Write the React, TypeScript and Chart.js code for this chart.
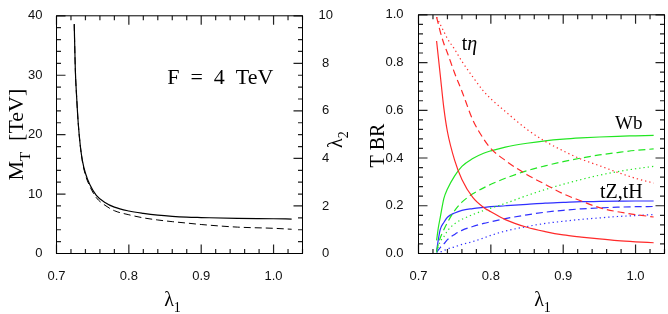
import React, { useEffect, useRef } from 'react';
import { Chart, registerables } from 'chart.js';

Chart.register(...registerables);

// ---------- data ----------
const X_TICKS = [0.7, 0.8, 0.9, 1.0];
const MT_TICKS = [0, 10, 20, 30, 40];
const L2_TICKS = [0, 2, 4, 6, 8, 10];
const BR_TICKS = [0.0, 0.2, 0.4, 0.6, 0.8, 1.0];

// left panel
const LAMBDA_LEFT = [0.7245, 0.726, 0.728, 0.730, 0.733, 0.736, 0.740, 0.746, 0.755, 0.767, 0.78, 0.80, 0.82, 0.84, 0.86, 0.88, 0.90, 0.95, 1.00, 1.025];
const MT_SOLID = [38.6, 31, 26, 22, 18, 15.5, 13.5, 11.6, 9.8, 8.6, 7.8, 7.15, 6.75, 6.45, 6.25, 6.12, 6.05, 5.9, 5.85, 5.8];
const LAMBDA2_DASHED = [9.65, 7.75, 6.5, 5.5, 4.5, 3.83, 3.3, 2.83, 2.35, 2.03, 1.8, 1.63, 1.5, 1.41, 1.34, 1.28, 1.22, 1.11, 1.06, 1.02];

// right panel
const LAMBDA_RIGHT = [0.725, 0.7275, 0.73, 0.735, 0.74, 0.75, 0.76, 0.775, 0.79, 0.80, 0.82, 0.85, 0.875, 0.90, 0.925, 0.95, 0.975, 1.00, 1.025];
const TETA_SOLID = [0.89, 0.82, 0.75, 0.61, 0.51, 0.39, 0.31, 0.235, 0.193, 0.175, 0.142, 0.11, 0.092, 0.078, 0.069, 0.061, 0.054, 0.049, 0.045];
const TETA_DASHED = [0.99, 0.96, 0.93, 0.88, 0.84, 0.755, 0.68, 0.56, 0.48, 0.44, 0.39, 0.33, 0.29, 0.25, 0.22, 0.192, 0.175, 0.163, 0.153];
const TETA_DOTTED = [0.99, 0.975, 0.96, 0.93, 0.9, 0.855, 0.805, 0.74, 0.68, 0.648, 0.595, 0.52, 0.47, 0.43, 0.395, 0.368, 0.34, 0.315, 0.295];
const WB_SOLID = [0.055, 0.11, 0.15, 0.23, 0.27, 0.325, 0.365, 0.398, 0.42, 0.43, 0.446, 0.462, 0.472, 0.479, 0.484, 0.488, 0.491, 0.493, 0.495];
const WB_DASHED = [0.01, 0.04, 0.065, 0.1, 0.13, 0.18, 0.215, 0.25, 0.275, 0.29, 0.315, 0.347, 0.367, 0.385, 0.4, 0.413, 0.423, 0.432, 0.438];
const WB_DOTTED = [0.005, 0.03, 0.05, 0.07, 0.095, 0.125, 0.143, 0.163, 0.18, 0.19, 0.21, 0.243, 0.268, 0.29, 0.31, 0.328, 0.343, 0.355, 0.365];
const TZ_SOLID = [0.01, 0.06, 0.1, 0.13, 0.152, 0.17, 0.181, 0.188, 0.193, 0.196, 0.2, 0.206, 0.211, 0.214, 0.217, 0.218, 0.219, 0.22, 0.22];
const TZ_DASHED = [0.005, 0.015, 0.025, 0.04, 0.058, 0.08, 0.097, 0.113, 0.126, 0.133, 0.146, 0.162, 0.173, 0.181, 0.187, 0.191, 0.194, 0.196, 0.197];
const TZ_DOTTED = [0.0, 0.003, 0.006, 0.012, 0.019, 0.028, 0.038, 0.05, 0.065, 0.076, 0.094, 0.113, 0.126, 0.135, 0.143, 0.149, 0.155, 0.159, 0.163];

// ---------- styles ----------
const SERIF = '"Liberation Serif", "Times New Roman", serif';
const SANS = '"Liberation Sans", Arial, sans-serif';
const RED = '#ff2a2a';
const GREEN = '#22e622';
const BLUE = '#2f2fff';
const DASH = [7, 4];
const DOT = [1.3, 3];

type Part = { t: string; sub?: boolean; italic?: boolean };
type TextItem = {
  parts: Part[];
  size: number;
  rotate?: boolean;
  align?: 'left' | 'center';
  pos: (c: any) => { x: number; y: number };
};

function textPlugin(items: TextItem[]) {
  return {
    id: 'texts',
    afterDraw(chart: any) {
      const ctx = chart.ctx;
      for (const it of items) {
        const { x, y } = it.pos(chart);
        const fontFor = (p: Part) =>
          `${p.italic ? 'italic ' : ''}${p.sub ? Math.round(it.size * 0.7) : it.size}px ${SERIF}`;
        ctx.save();
        ctx.translate(x, y);
        if (it.rotate) ctx.rotate(-Math.PI / 2);
        let total = 0;
        const widths = it.parts.map((p) => {
          ctx.font = fontFor(p);
          const w = ctx.measureText(p.t).width;
          total += w;
          return w;
        });
        let cx = it.align === 'left' ? 0 : -total / 2;
        ctx.fillStyle = '#000';
        ctx.textAlign = 'left';
        ctx.textBaseline = 'alphabetic';
        it.parts.forEach((p, i) => {
          ctx.font = fontFor(p);
          ctx.fillText(p.t, cx, p.sub ? it.size * 0.3 : 0);
          cx += widths[i];
        });
        ctx.restore();
      }
    },
  };
}

type TickSpec = {
  scaleId: string;
  sides: ('bottom' | 'top' | 'left' | 'right')[];
  from: number;
  to: number;
  step: number;
  majors: number[];
};

function framePlugin(specs: TickSpec[]) {
  return {
    id: 'frame',
    afterDraw(chart: any) {
      const { ctx, chartArea: a } = chart;
      ctx.save();
      ctx.strokeStyle = '#222';
      ctx.lineWidth = 1.2;
      ctx.setLineDash([]);
      ctx.beginPath();
      for (const s of specs) {
        const sc = chart.scales[s.scaleId];
        const n = Math.round((s.to - s.from) / s.step);
        for (let i = 0; i <= n; i++) {
          const v = s.from + i * s.step;
          const major = s.majors.some((m) => Math.abs(m - v) < s.step * 0.01);
          const len = major ? 9 : 4.5;
          const p = sc.getPixelForValue(v);
          for (const side of s.sides) {
            if (side === 'bottom') { ctx.moveTo(p, a.bottom); ctx.lineTo(p, a.bottom - len); }
            if (side === 'top') { ctx.moveTo(p, a.top); ctx.lineTo(p, a.top + len); }
            if (side === 'left') { ctx.moveTo(a.left, p); ctx.lineTo(a.left + len, p); }
            if (side === 'right') { ctx.moveTo(a.right, p); ctx.lineTo(a.right - len, p); }
          }
        }
      }
      ctx.stroke();
      ctx.strokeStyle = '#000';
      ctx.lineWidth = 1;
      ctx.strokeRect(a.left, a.top, a.right - a.left, a.bottom - a.top);
      ctx.restore();
    },
  };
}

const tickFont = { family: SANS, size: 13 };

function lineDs(xs: number[], ys: number[], color: string, dash: number[], width: number, axis = 'y') {
  return {
    data: xs.map((x, i) => ({ x, y: ys[i] })),
    borderColor: color,
    borderWidth: width,
    borderDash: dash,
    pointRadius: 0,
    fill: false,
    cubicInterpolationMode: 'monotone' as const,
    yAxisID: axis,
  };
}

function xScale() {
  return {
    type: 'linear' as const,
    min: 0.7,
    max: 1.04,
    afterBuildTicks: (s: any) => { s.ticks = X_TICKS.map((v) => ({ value: v })); },
    afterFit: (s: any) => { s.height = 60.5; },
    grid: { display: false },
    border: { display: false },
    ticks: {
      padding: 7,
      maxRotation: 0,
      autoSkip: false,
      color: '#111',
      font: tickFont,
      callback: (v: any) => Number(v).toFixed(1),
    },
  };
}

const LEFT_W = 360;
const RIGHT_LEFT = 350;
const RIGHT_W = 668 - RIGHT_LEFT;

export default function App() {
  const leftRef = useRef<HTMLCanvasElement>(null);
  const rightRef = useRef<HTMLCanvasElement>(null);

  useEffect(() => {
    const left = new Chart(leftRef.current as HTMLCanvasElement, {
      type: 'line',
      data: {
        datasets: [
          lineDs(LAMBDA_LEFT, MT_SOLID, '#000', [], 1.2, 'y') as any,
          lineDs(LAMBDA_LEFT, LAMBDA2_DASHED, '#000', DASH, 1, 'y2') as any,
        ],
      },
      options: {
        animation: false,
        responsive: false,
        maintainAspectRatio: false,
        events: [],
        layout: { padding: { top: 7.5, left: 0, right: 0, bottom: 0 } },
        plugins: { legend: { display: false }, tooltip: { enabled: false } },
        scales: {
          x: xScale() as any,
          y: {
            type: 'linear',
            position: 'left',
            min: 0,
            max: 40,
            afterBuildTicks: (s: any) => { s.ticks = MT_TICKS.map((v) => ({ value: v })); },
            afterFit: (s: any) => { s.width = 56.5; },
            grid: { display: false },
            border: { display: false },
            ticks: { padding: 6, color: '#111', font: tickFont, callback: (v: any) => String(v) },
          },
          y2: {
            type: 'linear',
            position: 'right',
            min: 0,
            max: 10,
            afterBuildTicks: (s: any) => { s.ticks = L2_TICKS.map((v) => ({ value: v })); },
            afterFit: (s: any) => { s.width = LEFT_W - 302.5; },
            grid: { display: false },
            border: { display: false },
            ticks: { padding: 8, crossAlign: 'center', color: '#111', font: tickFont, callback: (v: any) => String(v) },
          },
        } as any,
      },
      plugins: [
        framePlugin([
          { scaleId: 'x', sides: ['bottom', 'top'], from: 0.7, to: 1.04, step: 0.02, majors: X_TICKS },
          { scaleId: 'y', sides: ['left'], from: 0, to: 40, step: 2, majors: MT_TICKS },
          { scaleId: 'y2', sides: ['right'], from: 0, to: 10, step: 0.5, majors: L2_TICKS },
        ]),
        textPlugin([
          {
            parts: [{ t: 'M' }, { t: 'T', sub: true }, { t: '  [TeV]' }],
            size: 22,
            rotate: true,
            pos: (c) => ({ x: c.chartArea.left - 33.5, y: (c.chartArea.top + c.chartArea.bottom) / 2 }),
          },
          {
            parts: [{ t: 'λ' }, { t: '2', sub: true }],
            size: 20,
            rotate: true,
            pos: (c) => ({ x: c.chartArea.right + 39, y: (c.chartArea.top + c.chartArea.bottom) / 2 + 5 }),
          },
          {
            parts: [{ t: 'λ' }, { t: '1', sub: true }],
            size: 20,
            pos: (c) => ({ x: (c.chartArea.left + c.chartArea.right) / 2 - 7, y: 306 }),
          },
          {
            parts: [{ t: 'F  =  4  TeV' }],
            size: 22,
            align: 'left',
            pos: (c) => ({ x: c.scales.x.getPixelForValue(0.853), y: c.scales.y.getPixelForValue(28.5) }),
          },
        ]),
      ],
    } as any);

    const right = new Chart(rightRef.current as HTMLCanvasElement, {
      type: 'line',
      data: {
        datasets: [
          lineDs(LAMBDA_RIGHT, TETA_SOLID, RED, [], 1.2),
          lineDs(LAMBDA_RIGHT, TETA_DASHED, RED, DASH, 1.2),
          lineDs(LAMBDA_RIGHT, TETA_DOTTED, RED, DOT, 1.2),
          lineDs(LAMBDA_RIGHT, WB_SOLID, GREEN, [], 1.2),
          lineDs(LAMBDA_RIGHT, WB_DASHED, GREEN, DASH, 1.2),
          lineDs(LAMBDA_RIGHT, WB_DOTTED, GREEN, DOT, 1.2),
          lineDs(LAMBDA_RIGHT, TZ_SOLID, BLUE, [], 1.2),
          lineDs(LAMBDA_RIGHT, TZ_DASHED, BLUE, DASH, 1.2),
          lineDs(LAMBDA_RIGHT, TZ_DOTTED, BLUE, DOT, 1.2),
        ] as any,
      },
      options: {
        animation: false,
        responsive: false,
        maintainAspectRatio: false,
        events: [],
        layout: { padding: { top: 7.5, left: 0, right: RIGHT_W - (664.5 - RIGHT_LEFT), bottom: 0 } },
        plugins: { legend: { display: false }, tooltip: { enabled: false } },
        scales: {
          x: xScale() as any,
          y: {
            type: 'linear',
            position: 'left',
            min: 0,
            max: 1,
            afterBuildTicks: (s: any) => { s.ticks = BR_TICKS.map((v) => ({ value: v })); },
            afterFit: (s: any) => { s.width = 418.5 - RIGHT_LEFT; },
            grid: { display: false },
            border: { display: false },
            ticks: { padding: 7, color: '#111', font: tickFont, callback: (v: any) => Number(v).toFixed(1) },
          },
        } as any,
      },
      plugins: [
        framePlugin([
          { scaleId: 'x', sides: ['bottom', 'top'], from: 0.7, to: 1.04, step: 0.02, majors: X_TICKS },
          { scaleId: 'y', sides: ['left', 'right'], from: 0, to: 1, step: 0.04, majors: BR_TICKS },
        ]),
        textPlugin([
          {
            parts: [{ t: 'T BR' }],
            size: 20,
            rotate: true,
            pos: (c) => ({ x: c.chartArea.left - 34.5, y: 145.5 }),
          },
          {
            parts: [{ t: 'λ' }, { t: '1', sub: true }],
            size: 20,
            pos: (c) => ({ x: (c.chartArea.left + c.chartArea.right) / 2 + 1, y: 306 }),
          },
          {
            parts: [{ t: 't' }, { t: 'η', italic: true }],
            size: 20,
            align: 'left',
            pos: (c) => ({ x: c.scales.x.getPixelForValue(0.7597), y: c.scales.y.getPixelForValue(0.854) }),
          },
          {
            parts: [{ t: 'Wb' }],
            size: 19,
            align: 'left',
            pos: (c) => ({ x: c.scales.x.getPixelForValue(0.9716), y: c.scales.y.getPixelForValue(0.522) }),
          },
          {
            parts: [{ t: 'tZ,tH' }],
            size: 20,
            align: 'left',
            pos: (c) => ({ x: c.scales.x.getPixelForValue(0.9509), y: c.scales.y.getPixelForValue(0.231) }),
          },
        ]),
      ],
    } as any);

    return () => {
      left.destroy();
      right.destroy();
    };
  }, []);

  return (
    <div style={{ position: 'fixed', left: 0, top: 0, width: 668, height: 314, background: '#fff' }}>
      <canvas ref={leftRef} width={LEFT_W} height={314} style={{ position: 'absolute', left: 0, top: 0 }} />
      <canvas ref={rightRef} width={RIGHT_W} height={314} style={{ position: 'absolute', left: RIGHT_LEFT, top: 0 }} />
    </div>
  );
}
